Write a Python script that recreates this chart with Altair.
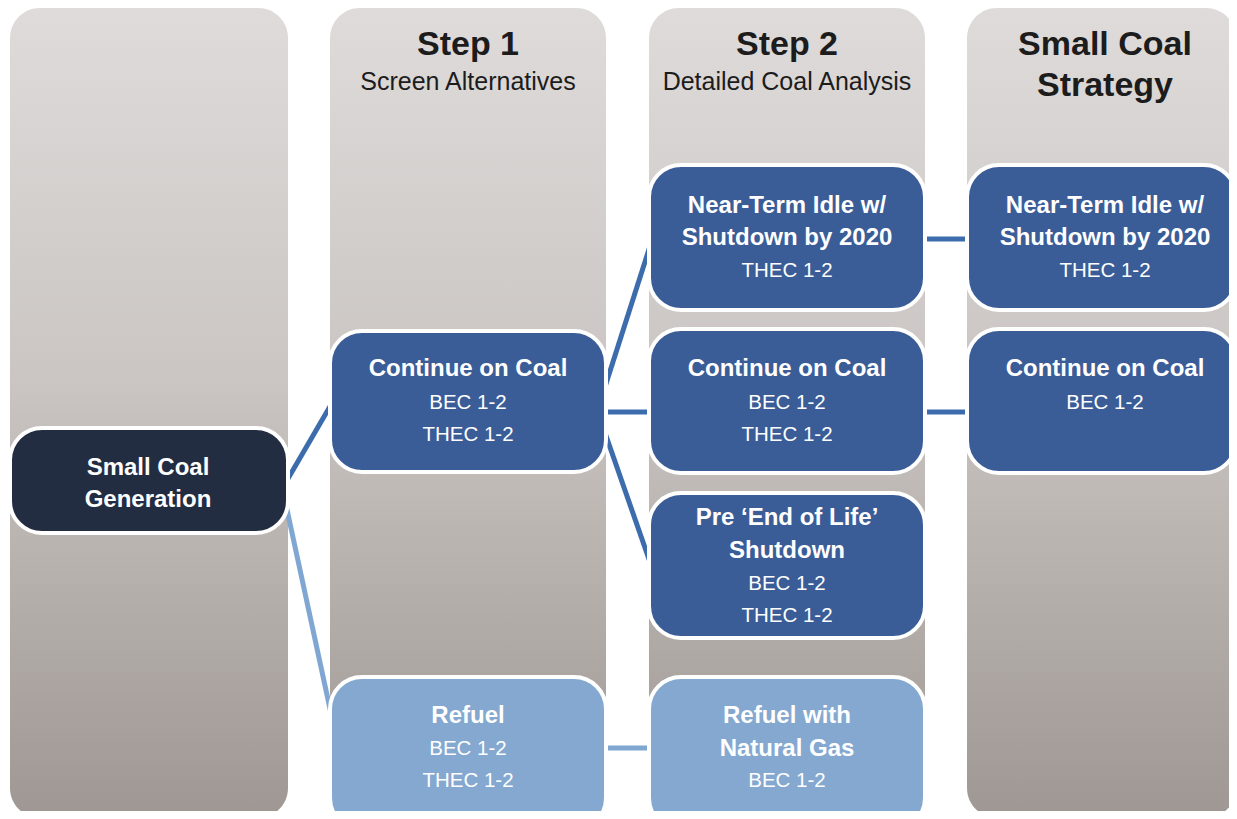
import altair as alt
import pandas as pd

# ---------------- data (reference pixel units) ----------------
# gray column backgrounds
col_x0 = [10, 330, 649, 967]
col_x1 = [288, 606, 925, 1236]
col_y0 = [8, 8, 8, 8]
col_y1 = [818, 818, 818, 818]

# column headers
header_text = ["Step 1", "Screen Alternatives", "Step 2", "Detailed Coal Analysis", "Small Coal", "Strategy"]
header_x = [468, 468, 787, 787, 1105, 1105]
header_y = [45, 82, 45, 82, 45, 86]
header_bold = [True, False, True, False, True, True]

# boxes
box_name = ["Small Coal Generation", "Continue on Coal (1)", "Refuel", "Near-Term Idle (2)",
            "Continue on Coal (2)", "Pre End of Life Shutdown", "Refuel with Natural Gas",
            "Near-Term Idle (S)", "Continue on Coal (S)"]
box_kind = ["root", "coal", "gas", "coal", "coal", "coal", "gas", "coal", "coal"]
box_x0 = [10, 330, 330, 649, 649, 649, 649, 967, 967]
box_x1 = [288, 606, 606, 925, 925, 925, 925, 1236, 1236]
box_y0 = [428, 331, 677, 165, 329, 493, 677, 165, 329]
box_y1 = [533, 472, 830, 310, 473, 638, 830, 310, 473]

# box text lines
line_text = ["Small Coal", "Generation",
             "Continue on Coal", "BEC 1-2", "THEC 1-2",
             "Refuel", "BEC 1-2", "THEC 1-2",
             "Near-Term Idle w/", "Shutdown by 2020", "THEC 1-2",
             "Continue on Coal", "BEC 1-2", "THEC 1-2",
             "Pre \u2018End of Life\u2019", "Shutdown", "BEC 1-2", "THEC 1-2",
             "Refuel with", "Natural Gas", "BEC 1-2",
             "Near-Term Idle w/", "Shutdown by 2020", "THEC 1-2",
             "Continue on Coal", "BEC 1-2"]
line_x = [148, 148,
          468, 468, 468,
          468, 468, 468,
          787, 787, 787,
          787, 787, 787,
          787, 787, 787, 787,
          787, 787, 787,
          1105, 1105, 1105,
          1105, 1105]
line_y = [468, 500,
          369, 403, 435,
          716, 749, 781,
          206, 238, 271,
          369, 403, 435,
          518, 551, 584, 616,
          716, 749, 781,
          206, 238, 271,
          369, 403]
line_bold = [True, True,
             True, False, False,
             True, False, False,
             True, True, False,
             True, False, False,
             True, True, False, False,
             True, True, False,
             True, True, False,
             True, False]

# connectors
conn_kind = ["coal", "gas", "coal", "coal", "coal", "gas", "coal", "coal"]
conn_x0 = [286, 286, 604, 604, 604, 604, 923, 923]
conn_y0 = [482, 505, 390, 412, 430, 748, 239, 412]
conn_x1 = [332, 332, 651, 651, 651, 651, 969, 969]
conn_y1 = [403, 718, 243, 412, 565, 748, 239, 412]

# ---------------- chart ----------------
W, H = 1221, 803
xs = alt.Scale(domain=[8, 8 + W])
ys = alt.Scale(domain=[8, 8 + H], reverse=True)
FONT = "Liberation Sans"

cols = pd.DataFrame({"x0": col_x0, "x1": col_x1, "y0": col_y0, "y1": col_y1})
heads = pd.DataFrame({"x": header_x, "y": header_y, "t": header_text, "b": header_bold})
boxes = pd.DataFrame({"name": box_name, "kind": box_kind, "x0": box_x0, "x1": box_x1,
                      "y0": box_y0, "y1": box_y1})
lines = pd.DataFrame({"x": line_x, "y": line_y, "t": line_text, "b": line_bold})
conns = pd.DataFrame({"kind": conn_kind, "x0": conn_x0, "y0": conn_y0,
                      "x1": conn_x1, "y1": conn_y1})

grad = alt.Gradient(
    gradient="linear",
    stops=[alt.GradientStop(color="#dedbda", offset=0),
           alt.GradientStop(color="#cbc6c3", offset=0.45),
           alt.GradientStop(color="#9e9793", offset=1)],
    x1=0, x2=0, y1=0, y2=1,
)

col_layer = alt.Chart(cols).mark_rect(cornerRadius=30, fill=grad, clip=True).encode(
    x=alt.X("x0:Q", scale=xs, axis=None), x2="x1:Q",
    y=alt.Y("y0:Q", scale=ys, axis=None), y2="y1:Q",
)

head_bold = alt.Chart(heads[heads.b]).mark_text(
    font=FONT, fontSize=34, fontWeight="bold", color="#1c1c1c", baseline="middle", align="center"
).encode(x=alt.X("x:Q", scale=xs, axis=None), y=alt.Y("y:Q", scale=ys, axis=None), text="t:N")

head_reg = alt.Chart(heads[~heads.b]).mark_text(
    font=FONT, fontSize=25, color="#1c1c1c", baseline="middle", align="center"
).encode(x=alt.X("x:Q", scale=xs, axis=None), y=alt.Y("y:Q", scale=ys, axis=None), text="t:N")

kind_scale = alt.Scale(domain=["root", "coal", "gas"], range=["#232d42", "#3a5d98", "#84a8cf"])
conn_scale = alt.Scale(domain=["coal", "gas"], range=["#3d6cad", "#80a7d2"])

conn_layer = alt.Chart(conns).mark_rule(strokeWidth=5, clip=True).encode(
    x=alt.X("x0:Q", scale=xs, axis=None), x2="x1:Q",
    y=alt.Y("y0:Q", scale=ys, axis=None), y2="y1:Q",
    color=alt.Color("kind:N", scale=conn_scale, legend=None),
)

box_layer = alt.Chart(boxes).mark_rect(cornerRadius=32, stroke="white", strokeWidth=4,
                                       clip=True).encode(
    x=alt.X("x0:Q", scale=xs, axis=None), x2="x1:Q",
    y=alt.Y("y0:Q", scale=ys, axis=None), y2="y1:Q",
    fill=alt.Fill("kind:N", scale=kind_scale, legend=None),
)

txt_bold = alt.Chart(lines[lines.b]).mark_text(
    font=FONT, fontSize=24, fontWeight="bold", color="white", baseline="middle", align="center"
).encode(x=alt.X("x:Q", scale=xs, axis=None), y=alt.Y("y:Q", scale=ys, axis=None), text="t:N")

txt_reg = alt.Chart(lines[~lines.b]).mark_text(
    font=FONT, fontSize=20.5, color="white", baseline="middle", align="center"
).encode(x=alt.X("x:Q", scale=xs, axis=None), y=alt.Y("y:Q", scale=ys, axis=None), text="t:N")

chart = alt.layer(col_layer, head_bold, head_reg, conn_layer, box_layer, txt_bold, txt_reg).properties(
    width=W, height=H, autosize=alt.AutoSizeParams(type="none"), padding=0,
    background="white",
).configure_view(stroke=None)

chart.save("out.html", embed_options={"renderer": "svg", "actions": False})
